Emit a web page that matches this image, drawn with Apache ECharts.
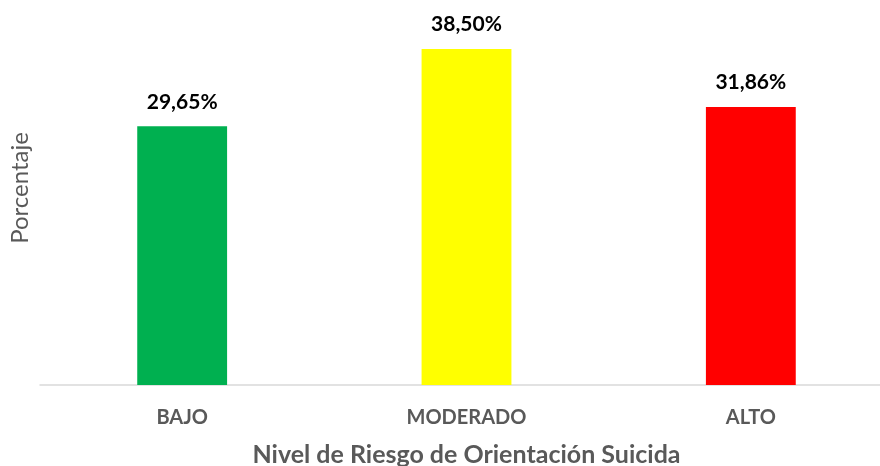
<!DOCTYPE html>
<html><head><meta charset="utf-8">
<script src="https://cdn.jsdelivr.net/npm/echarts@6/dist/echarts.min.js"></script>
<style>html,body{margin:0;padding:0;background:#fff}#c{width:880px;height:466px}</style>
</head><body><div id="c"></div>
<script>
const categories = ['BAJO', 'MODERADO', 'ALTO'];
const values = [29.65, 38.50, 31.86];
const colors = ['#00B050', '#FFFF00', '#FF0000'];
const xTitle = 'Nivel de Riesgo de Orientación Suicida';
const yTitle = 'Porcentaje';

const chart = echarts.init(document.getElementById('c'), null, {renderer: 'canvas'});
const FONT = 'Lato, "Open Sans", sans-serif';
chart.setOption({
  animation: false,
  grid: {left: 40, width: 853, top: 36, height: 349, containLabel: false, outerBoundsMode: 'none'},
  graphic: [{
    type: 'text', x: 20, y: 188, rotation: Math.PI / 2,
    style: {text: yTitle, fill: '#595959', font: '24px Lato, "Open Sans", sans-serif', align: 'center', verticalAlign: 'middle'}
  }],
  xAxis: {
    type: 'category', data: categories,
    axisLine: {lineStyle: {color: '#D9D9D9', width: 1.5}},
    axisTick: {show: false},
    axisLabel: {color: '#595959', fontFamily: FONT, fontWeight: 'bold', fontSize: 20, margin: 23},
    name: xTitle, nameLocation: 'middle', nameGap: 57,
    nameTextStyle: {color: '#595959', fontFamily: FONT, fontWeight: 'bold', fontSize: 25}
  },
  yAxis: {
    type: 'value', min: 0, max: 40, show: true,
    axisLine: {show: false}, axisTick: {show: false}, axisLabel: {show: false},
    splitLine: {show: false}
  },
  series: [{
    type: 'bar', barWidth: '31.6%',
    data: values.map((v, i) => ({value: v, itemStyle: {color: colors[i]}})),
    label: {show: true, position: 'top', distance: 14, color: '#000', fontFamily: FONT, fontWeight: 'bold', fontSize: 21,
      formatter: p => p.value.toFixed(2).replace('.', ',') + '%'}
  }]
});
</script></body></html>
